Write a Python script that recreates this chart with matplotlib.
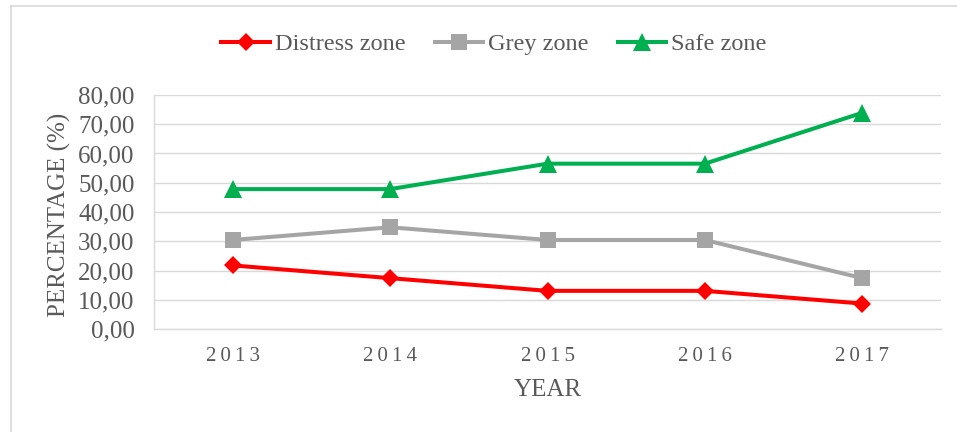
import numpy as np
import matplotlib.pyplot as plt
from matplotlib.lines import Line2D

plt.rcParams['font.family'] = ['Liberation Serif', 'DejaVu Serif']

# Data
years = ['2013', '2014', '2015', '2016', '2017']
distress = [21.74, 17.39, 13.04, 13.04, 8.70]
grey = [30.43, 34.78, 30.43, 30.43, 17.39]
safe = [47.83, 47.83, 56.52, 56.52, 73.91]

text_col = '#595959'
grid_col = '#D9D9D9'

fig = plt.figure(figsize=(9.57, 4.32), dpi=100)
ax = fig.add_axes([154 / 957, 1 - 329 / 432, 787 / 957, 234 / 432])

x = np.arange(len(years))
ax.plot(x, distress, color='#FF0000', lw=2.9, marker='D', ms=9.5,
        mew=0, label='Distress zone')
ax.plot(x, grey, color='#A5A5A5', lw=2.9, marker='s', ms=12,
        mew=0, label='Grey zone')
ax.plot(x, safe, color='#00B050', lw=2.9, marker='^', ms=13,
        mew=0, label='Safe zone')

ax.set_xlim(-0.5, len(years) - 0.5)
ax.set_ylim(0, 80)
ax.set_yticks(np.arange(0, 81, 10))
ax.set_yticklabels([f'{v:.2f}'.replace('.', ',') for v in np.arange(0, 81, 10)])
ax.set_xticks(x)
# years are drawn letter-spaced in the original
ax.set_xticklabels(['\u2009'.join(y) for y in years])

ax.tick_params(axis='y', length=0, pad=14, labelsize=18, labelcolor=text_col)
ax.tick_params(axis='x', length=0, pad=13, labelsize=15, labelcolor=text_col)

ax.grid(axis='y', color=grid_col, lw=1)
ax.set_axisbelow(True)
for s in ['top', 'right']:
    ax.spines[s].set_visible(False)
ax.spines['left'].set_color(grid_col)
ax.spines['bottom'].set_color(grid_col)
ax.spines['left'].set_linewidth(1)
ax.spines['bottom'].set_linewidth(1)

fig.text(548 / 957, 1 - 390 / 432, 'YEAR', fontsize=18, color=text_col,
         ha='center', va='center')
fig.text(59 / 957, 1 - 215 / 432, 'PERCENTAGE (%)', fontsize=18, color=text_col,
         ha='center', va='center', rotation=90)

leg = fig.legend(loc='center', bbox_to_anchor=(494 / 957, 1 - 44 / 432), ncol=3,
                 frameon=False, fontsize=17.5, handlelength=2.0,
                 handletextpad=0.2, columnspacing=1.2)
for t in leg.get_texts():
    t.set_color(text_col)

# outer chart frame
fig.add_artist(Line2D([11 / 957, 1], [1 - 6 / 432, 1 - 6 / 432], color=grid_col, lw=1.2))
fig.add_artist(Line2D([11 / 957, 11 / 957], [0, 1 - 6 / 432], color=grid_col, lw=1.2))

fig.savefig('out.png', dpi=100)
